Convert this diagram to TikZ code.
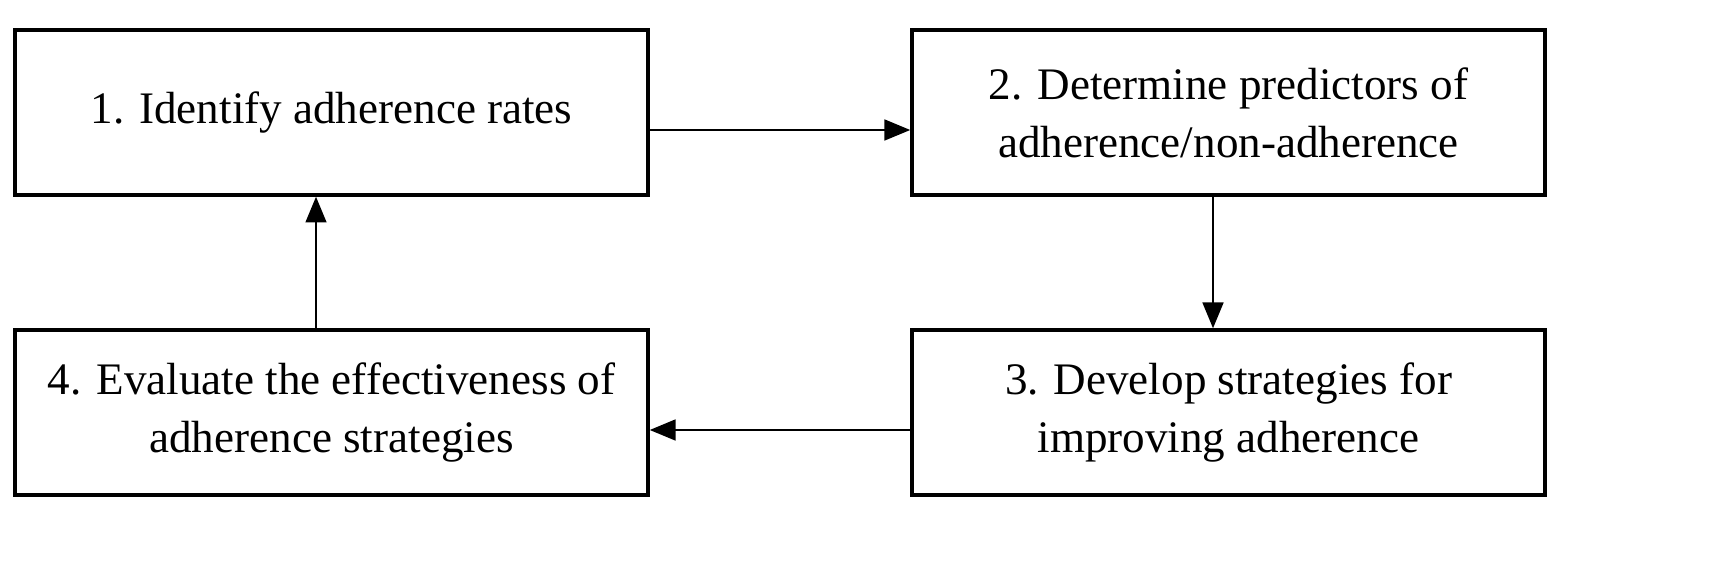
\documentclass[tikz,border=0pt]{standalone}
\usepackage{fontspec}
\setmainfont{Liberation Serif}
\usetikzlibrary{arrows.meta}

\begin{document}
\begin{tikzpicture}[x=1.0913cm,y=1.0913cm,
    stagebox/.style={draw,line width=1.1pt,minimum width=6.908cm,minimum height=1.8cm,
        align=center,font=\fontsize{14}{18}\selectfont,inner sep=0pt},
    flow/.style={-{Triangle[length=8pt,width=6.5pt]},line width=0.55pt}]
\useasboundingbox (0,0) rectangle (17.11,5.62);

% Stage boxes
\node[stagebox] (rates) at (3.315,4.495) {1. Identify adherence rates};
\node[stagebox] (predictors) at (12.285,4.495) {2. Determine predictors of\\adherence/non-adherence};
\node[stagebox] (develop) at (12.285,1.495) {3. Develop strategies for\\improving adherence};
\node[stagebox] (evaluate) at (3.315,1.495) {4. Evaluate the effectiveness of\\adherence strategies};

% Cycle arrows
\draw[flow] ([yshift=-0.191cm]rates.east) -- ([yshift=-0.191cm]predictors.west);
\draw[flow] ([xshift=-0.169cm]predictors.south) -- ([xshift=-0.169cm]develop.north);
\draw[flow] ([yshift=-0.191cm]develop.west) -- ([yshift=-0.191cm]evaluate.east);
\draw[flow] ([xshift=-0.169cm]evaluate.north) -- ([xshift=-0.169cm]rates.south);
\end{tikzpicture}
\end{document}
